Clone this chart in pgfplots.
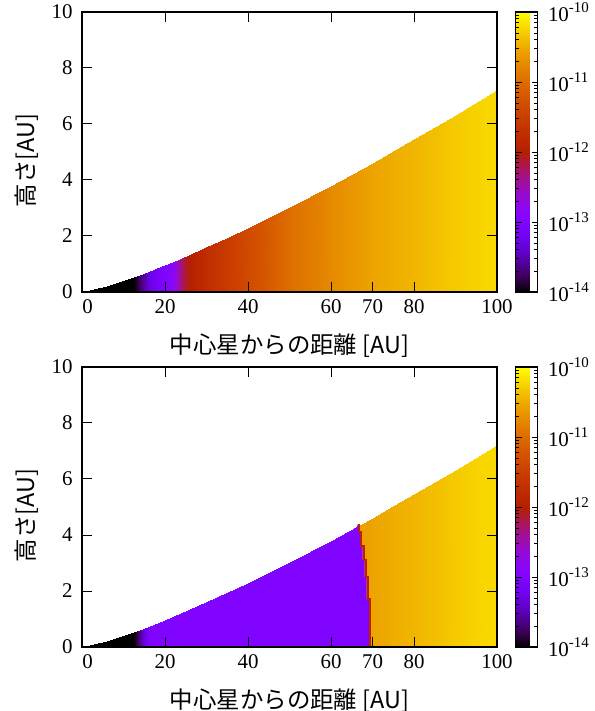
\documentclass[border=0pt]{standalone}
\usepackage{pgfplots}
\pgfplotsset{compat=1.18}
\usepackage{fontspec}
\setmainfont{Liberation Serif}
\newfontfamily\jp{Noto Sans CJK JP}
\definecolor{gpviolet}{RGB}{128,4,255}
\definecolor{gpred}{RGB}{185,35,0}
\newcommand\tp[1]{10\raisebox{0.4em}{\fontsize{15}{15}\selectfont #1}}
\pgfplotsset{
  colormap={gp}{rgb255=(0,0,0) rgb255=(57,0,79) rgb255=(81,0,150) rgb255=(99,1,206) rgb255=(114,2,243) rgb255=(128,4,255) rgb255=(140,7,243) rgb255=(151,11,206) rgb255=(161,16,150) rgb255=(171,23,79) rgb255=(180,32,0) rgb255=(189,42,0) rgb255=(198,55,0) rgb255=(206,70,0) rgb255=(213,87,0) rgb255=(221,108,0) rgb255=(228,131,0) rgb255=(235,157,0) rgb255=(242,186,0) rgb255=(249,219,0) rgb255=(255,255,0)},
  panel/.style={
    width=415bp, height=280bp, scale only axis,
    xmin=0, xmax=100, ymin=0, ymax=10, enlargelimits=false,
    axis on top,
    colormap name=gp, point meta min=-14, point meta max=-10,
    xtick={0,20,40,60,80,100},
    xticklabels={\hspace*{11bp}0,20,40,60,80,100},
    extra x ticks={70}, extra x tick labels={70},
    extra x tick style={xtick pos=bottom},
    ytick={0,2,4,6,8,10},
    tick align=inside, major tick length=10bp,
    axis line style={line width=1.2bp},
    tick style={line width=1bp, black},
    tick label style={font=\fontsize{21}{25}\selectfont},
    xticklabel style={yshift=-4bp},
    yticklabel style={xshift=-6bp},
    /pgf/number format/assume math mode=true,
    xlabel={\jp 中心星からの距離 [AU]},
    ylabel={\jp 高さ[AU]},
    label style={font=\fontsize{23.5}{27}\selectfont},
    xlabel style={at={(axis description cs:0.5,-0.193)}, anchor=center},
    ylabel style={at={(axis description cs:-0.134,0.47)}, anchor=center},
    colorbar,
    colorbar style={
      at={(parent axis.north east)}, anchor=north west, xshift=10bp,
      scale only axis, width=22bp, height=280bp,
      ytick={-14,-13,-12,-11,-10},
      yticklabels={\tp{-14},\tp{-13},\tp{-12},\tp{-11},\tp{-10}},
      minor ytick={-13.699,-13.523,-13.398,-13.301,-13.222,-13.155,-13.097,-13.046,
                   -12.699,-12.523,-12.398,-12.301,-12.222,-12.155,-12.097,-12.046,
                   -11.699,-11.523,-11.398,-11.301,-11.222,-11.155,-11.097,-11.046,
                   -10.699,-10.523,-10.398,-10.301,-10.222,-10.155,-10.097,-10.046},
      yticklabel pos=right, ytick pos=both,
      tick align=inside, major tick length=6bp, minor tick length=3.5bp,
      axis line style={line width=1.2bp},
      tick style={line width=0.8bp, black},
      yticklabel style={font=\fontsize{21}{25}\selectfont, xshift=7bp},
    },
  },
}
\begin{document}
\begin{tikzpicture}
\useasboundingbox (0,0) rectangle (595bp,711bp);
% ---------- top panel ----------
\begin{axis}[panel, at={(82bp,419bp)}, anchor=south west]
\addplot[surf, shader=interp, point meta=\thisrow{c}] table {
r h c
0.3 0 -14
3 0 -14
6 0 -14
9 0 -14
12.5 0 -14
14 0 -13.72
16 0 -13.36
18 0 -13.1
20 0 -13.0
22 0 -12.85
24 0 -12.25
25.7 0 -12.0
30 0 -11.75
35 0 -11.55
40 0 -11.35
50 0 -10.98
60 0 -10.75
70 0 -10.55
80 0 -10.43
90 0 -10.3
100 0 -10.2

0.3 0.005 -14
3 0.090 -14
6 0.214 -14
9 0.355 -14
12.5 0.535 -14
14 0.616 -13.72
16 0.728 -13.36
18 0.845 -13.1
20 0.963 -13.0
22 1.084 -12.85
24 1.21 -12.25
25.7 1.318 -12.0
30 1.598 -11.75
35 1.938 -11.55
40 2.290 -11.35
50 3.027 -10.98
60 3.802 -10.75
70 4.610 -10.55
80 5.448 -10.43
90 6.312 -10.3
100 7.2 -10.2
};
\end{axis}
% ---------- bottom panel ----------
\begin{axis}[panel, at={(82bp,64bp)}, anchor=south west]
\addplot[surf, shader=interp, point meta=\thisrow{c}] table {
r h c
66.4 0 -10.62
70 0 -10.55
75 0 -10.49
80 0 -10.43
85 0 -10.37
90 0 -10.3
95 0 -10.25
100 0 -10.2

66.4 4.316 -10.62
70 4.610 -10.55
75 5.026 -10.49
80 5.448 -10.43
85 5.877 -10.37
90 6.312 -10.3
95 6.753 -10.25
100 7.2 -10.2
};
\addplot[surf, shader=interp, point meta=\thisrow{c}] table {
r h c
0.3 0 -14
3 0 -14
6 0 -14
9 0 -14
12.5 0 -14
14 0 -13.6
15.2 0 -13.25
16.3 0 -13.0
20 0 -13.0
30 0 -13.0
40 0 -13.0
50 0 -13.0
60 0 -13.0
66.5 0 -13.0

0.3 0.005 -14
3 0.090 -14
6 0.214 -14
9 0.355 -14
12.5 0.535 -14
14 0.616 -13.6
15.2 0.683 -13.25
16.3 0.746 -13.0
20 0.963 -13.0
30 1.598 -13.0
40 2.290 -13.0
50 3.027 -13.0
60 3.802 -13.0
66.5 4.324 -13.0
};
\addplot[fill=gpviolet, draw=none] coordinates {
(66.3,0) (69.2,0) (69.2,1.7) (68.6,1.7) (68.6,2.5) (68.1,2.5) (68.1,3.1)
(67.6,3.1) (67.6,3.6) (67.0,3.6) (67.0,4.1) (66.5,4.1) (66.5,4.4) (66.3,4.31)
} -- cycle;
\addplot[gpred, line width=2bp] coordinates {
(69.45,0) (69.45,1.7) (68.85,1.7) (68.85,2.5) (68.35,2.5) (68.35,3.1)
(67.85,3.1) (67.85,3.6) (67.25,3.6) (67.25,4.1) (66.75,4.1) (66.75,4.4)
};
\end{axis}
\end{tikzpicture}
\end{document}
